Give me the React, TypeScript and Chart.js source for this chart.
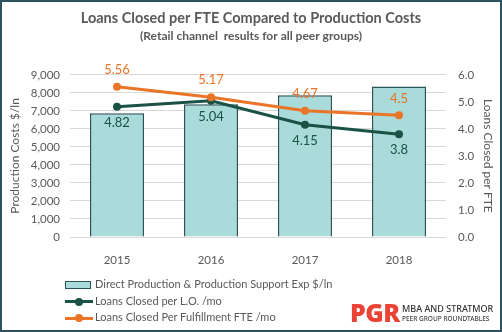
import React, { useEffect, useRef } from "react";
import { Chart, registerables } from "chart.js";

Chart.register(...registerables);

const years = ["2015", "2016", "2017", "2018"];
const productionCosts = [6870, 7370, 7870, 8350];
const loansPerLO = [4.82, 5.04, 4.15, 3.8];
const loansPerFulfillment = [5.56, 5.17, 4.67, 4.5];

const FONT = "Lato, 'Open Sans', sans-serif";
const GREY = "#595959";
const BAR_FILL = "#a8dbd9";
const BAR_BORDER = "#2b5459";
const GREEN = "#1a5246";
const ORANGE = "#ea7428";

const labelPlugin = {
  id: "pointLabels",
  afterDatasetsDraw(chart: any) {
    const ctx = chart.ctx;
    chart.data.datasets.forEach((ds: any, i: number) => {
      if (ds.type !== "line") return;
      const meta = chart.getDatasetMeta(i);
      ctx.save();
      ctx.font = `13px ${FONT}`;
      ctx.fillStyle = ds.labelColor;
      ctx.textAlign = "center";
      ctx.textBaseline = "middle";
      meta.data.forEach((pt: any, j: number) => {
        const v = ds.data[j];
        ctx.fillText(String(v), pt.x, pt.y + ds.labelOffset);
      });
      ctx.restore();
    });
  },
};

export default function App() {
  const ref = useRef<HTMLCanvasElement>(null);
  useEffect(() => {
    document.body.style.margin = "0";
    const chart = new Chart(ref.current!, {
      type: "bar",
      data: {
        labels: years,
        datasets: [
          {
            type: "line",
            label: "Loans Closed Per Fulfillment FTE /mo",
            data: loansPerFulfillment,
            yAxisID: "y1",
            borderColor: ORANGE,
            backgroundColor: ORANGE,
            borderWidth: 3,
            pointRadius: 4,
            pointBackgroundColor: ORANGE,
            pointBorderWidth: 0,
            order: 0,
            labelColor: ORANGE,
            labelOffset: -17,
          } as any,
          {
            type: "line",
            label: "Loans Closed per L.O. /mo",
            data: loansPerLO,
            yAxisID: "y1",
            borderColor: GREEN,
            backgroundColor: GREEN,
            borderWidth: 3,
            pointRadius: 4,
            pointBackgroundColor: GREEN,
            pointBorderWidth: 0,
            order: 1,
            labelColor: GREEN,
            labelOffset: 16,
          } as any,
          {
            type: "bar",
            label: "Direct Production & Production Support Exp $/ln",
            data: productionCosts,
            yAxisID: "y",
            backgroundColor: BAR_FILL,
            borderColor: BAR_BORDER,
            borderWidth: 1.5,
            barPercentage: 0.575,
            categoryPercentage: 1,
            order: 3,
          },
        ],
      },
      options: {
        animation: false,
        responsive: false,
        maintainAspectRatio: false,
        layout: { padding: 0 },
        plugins: {
          legend: { display: false },
          tooltip: { enabled: false },
          title: {
            display: true,
            text: "Loans Closed per FTE Compared to Production Costs",
            color: GREY,
            font: { family: FONT, size: 14.5, weight: "bold" },
            padding: { top: 10, bottom: 2 },
          },
          subtitle: {
            display: true,
            text: "(Retail channel  results for all peer groups)",
            color: GREY,
            font: { family: FONT, size: 12, weight: "bold" },
            padding: { top: 0, bottom: 31 },
          },
        },
        scales: {
          x: {
            grid: { display: false },
            border: { display: false },
            ticks: { color: GREY, font: { family: FONT, size: 11.5 }, padding: 8 },
            afterFit: (s: any) => {
              s.height = 95;
            },
          },
          y: {
            position: "left",
            min: 0,
            max: 9000,
            grid: { color: "#d9d9d9", drawTicks: false, lineWidth: 1 },
            border: { display: false },
            ticks: {
              stepSize: 1000,
              autoSkip: false,
              color: GREY,
              padding: 10,
              font: { family: FONT, size: 11.5 },
              callback: (v: any) => Number(v).toLocaleString("en-US"),
            },
            title: {
              display: true,
              text: "Production Costs $/ln",
              color: GREY,
              font: { family: FONT, size: 12 },
              padding: { top: 8, bottom: 0 },
            },
            afterFit: (s: any) => {
              s.width = 70;
            },
          },
          y1: {
            position: "right",
            min: 0,
            max: 6,
            grid: { display: false, drawTicks: false },
            border: { display: false },
            ticks: {
              stepSize: 1,
              autoSkip: false,
              color: GREY,
              padding: 12,
              font: { family: FONT, size: 11.5 },
              callback: (v: any) => Number(v).toFixed(1),
            },
            title: {
              display: true,
              text: "Loans Closed per FTE",
              color: GREY,
              font: { family: FONT, size: 12 },
              padding: { top: 7, bottom: 0 },
            },
            afterFit: (s: any) => {
              s.width = 56;
            },
          },
        },
      },
      plugins: [labelPlugin],
    });
    return () => chart.destroy();
  }, []);

  const legendText: React.CSSProperties = {
    fontFamily: FONT,
    fontSize: 11,
    color: GREY,
    lineHeight: "16px",
    whiteSpace: "nowrap",
  };
  const lineSwatch = (c: string) => (
    <span style={{ position: "relative", display: "inline-block", width: 28, height: 10, marginRight: 2, verticalAlign: "middle" }}>
      <span style={{ position: "absolute", left: 0, top: 3.5, width: 28, height: 3, background: c }} />
      <span style={{ position: "absolute", left: 10, top: 1, width: 8, height: 8, borderRadius: 4, background: c }} />
    </span>
  );

  return (
    <div style={{ position: "fixed", left: 0, top: 0, width: 502, height: 332, background: "#fff", overflow: "hidden" }}>
      <canvas ref={ref} width={502} height={332} style={{ position: "absolute", left: 0, top: 0, width: 502, height: 332 }} />
      <div style={{ position: "absolute", left: 0, top: 0, width: 502, height: 332, boxSizing: "border-box", border: "2px solid #2d5260", pointerEvents: "none" }} />
      <div style={{ position: "absolute", left: 65, top: 276 }}>
        <div style={legendText}>
          <span style={{ display: "inline-block", width: 24, height: 6, background: BAR_FILL, border: `1px solid ${BAR_BORDER}`, marginRight: 4, verticalAlign: "middle" }} />
          Direct Production &amp; Production Support Exp $/ln
        </div>
        <div style={{ ...legendText, marginTop: 0.5 }}>
          {lineSwatch(GREEN)}
          Loans Closed per L.O. /mo
        </div>
        <div style={{ ...legendText, marginTop: 0.5 }}>
          {lineSwatch(ORANGE)}
          Loans Closed Per Fulfillment FTE /mo
        </div>
      </div>
      <div style={{ position: "absolute", left: 350, top: 299, fontFamily: "'Open Sans', sans-serif", fontWeight: 800, fontSize: 25, color: "#ea4335", lineHeight: "26px", letterSpacing: -0.5 }}>
        PGR
      </div>
      <div style={{ position: "absolute", left: 402, top: 303, fontFamily: "'Noto Sans', sans-serif", fontWeight: 500, fontSize: 9, color: "#333", lineHeight: "11px", whiteSpace: "nowrap" }}>
        MBA AND STRATMOR
      </div>
      <div style={{ position: "absolute", left: 402, top: 315, fontFamily: "'Noto Sans', sans-serif", fontWeight: 500, fontSize: 6.5, color: "#444", lineHeight: "8px", whiteSpace: "nowrap" }}>
        PEER GROUP ROUNDTABLES
      </div>
    </div>
  );
}
